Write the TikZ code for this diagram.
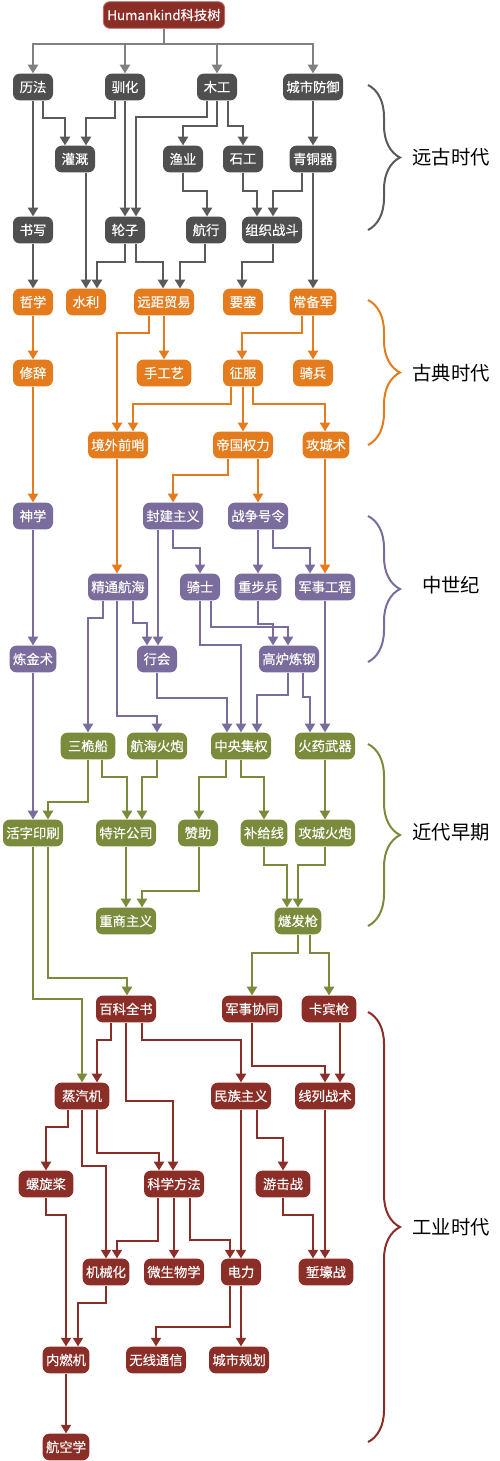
\documentclass[tikz,border=0pt]{standalone}
\usepackage{fontspec}
\setmainfont{Noto Sans CJK SC}
\newfontfamily\boxfont{Noto Sans CJK SC}[FakeBold=0.3]
\usepackage{xcolor}
\usetikzlibrary{arrows.meta}
\usetikzlibrary{decorations.pathreplacing}

\definecolor{gyfill}{RGB}{79,79,79}
\definecolor{gyline}{RGB}{90,90,90}
\definecolor{busline}{RGB}{128,128,128}
\definecolor{ogfill}{RGB}{228,124,30}
\definecolor{ppfill}{RGB}{122,108,156}
\definecolor{gnfill}{RGB}{122,140,60}
\definecolor{rdfill}{RGB}{140,46,40}

\begin{document}
\begin{tikzpicture}[x=0.75pt,y=0.75pt,yscale=-1,xscale=1,
  box/.style={rounded corners=5pt,minimum height=20pt,minimum width=30pt,inner xsep=2.5pt,inner ysep=0pt,text=white,font=\boxfont\fontsize{10}{12}\selectfont},
  wide/.style={minimum width=41pt},
  gy/.style={box,fill=gyfill},
  og/.style={box,fill=ogfill},
  pp/.style={box,fill=ppfill},
  gn/.style={box,fill=gnfill},
  rd/.style={box,fill=rdfill},
  link/.style={line width=1.5pt,-{Triangle[length=6.5pt,width=7.5pt]}},
  bus/.style={link,color=busline},
  gye/.style={link,color=gyline},
  oge/.style={link,color=ogfill},
  ppe/.style={link,color=ppfill},
  gne/.style={link,color=gnfill},
  rde/.style={link,color=rdfill},
  era/.style={line width=1.5pt,decorate,decoration={brace,amplitude=24pt}},
  eralabel/.style={font=\fontsize{14.5}{16}\selectfont,text=black}]
\useasboundingbox (0,0) rectangle (500,1461);

% Root
\node[rd,minimum width=91pt,draw=rdfill!70!white,line width=0.6pt] (root) at (164,15) {Humankind科技树};

% Text Node: ancient era
\node[gy] (lifa) at (33,87) {历法};
\node[gy] (xunhua) at (125,87) {驯化};
\node[gy] (mugong) at (217,87) {木工};
\node[gy] (chengshi) at (313,87) {城市防御};
\node[gy] (guangai) at (75,159) {灌溉};
\node[gy] (yuye) at (183,159) {渔业};
\node[gy] (shigong) at (243,159) {石工};
\node[gy] (qingtong) at (313,159) {青铜器};
\node[gy] (shuxie) at (33,230) {书写};
\node[gy] (lunzi) at (125,230) {轮子};
\node[gy] (hangxing) at (206,230) {航行};
\node[gy] (zuzhi) at (272,230) {组织战斗};

% Text Node: classical era
\node[og] (zhexue) at (33,302) {哲学};
\node[og] (shuili) at (86,302) {水利};
\node[og] (yuanju) at (164,302) {远距贸易};
\node[og] (yaosai) at (243,302) {要塞};
\node[og] (changbei) at (313,302) {常备军};
\node[og] (xiuci) at (33,373) {修辞};
\node[og,wide] (shougong) at (164,373) {手工艺};
\node[og] (zhengfu) at (243,373) {征服};
\node[og] (qibing) at (313,373) {骑兵};
\node[og] (jingwai) at (118,445) {境外前哨};
\node[og] (diguo) at (243,445) {帝国权力};
\node[og] (gongcheng) at (326,445) {攻城术};

% Text Node: medieval era
\node[pp] (shenxue) at (33,516) {神学};
\node[pp] (fengjian) at (173,516) {封建主义};
\node[pp] (zhanzheng) at (258,516) {战争号令};
\node[pp] (jingtong) at (118,587) {精通航海};
\node[pp] (qishi) at (200,587) {骑士};
\node[pp] (zhongbu) at (258,587) {重步兵};
\node[pp] (junshi) at (325,587) {军事工程};
\node[pp] (lianjin) at (33,659) {炼金术};
\node[pp] (hanghui) at (157,659) {行会};
\node[pp] (gaolu) at (289,659) {高炉炼钢};

% Text Node: early modern era
\node[gn,wide] (sanwei) at (88,746) {三桅船};
\node[gn] (hanghai) at (157,746) {航海火炮};
\node[gn] (zhongyang) at (241,746) {中央集权};
\node[gn] (huoyao) at (325,746) {火药武器};
\node[gn] (huozi) at (33,833) {活字印刷};
\node[gn] (texu) at (126,833) {特许公司};
\node[gn] (zanzhu) at (198,833) {赞助};
\node[gn] (buji) at (264,833) {补给线};
\node[gn] (gongchenghp) at (325,833) {攻城火炮};
\node[gn] (zhongshang) at (126,921) {重商主义};
\node[gn] (suifa) at (298,921) {燧发枪};

% Text Node: industrial era
\node[rd] (baike) at (126,1009) {百科全书};
\node[rd] (junxie) at (252,1009) {军事协同};
\node[rd,wide] (kabin) at (329,1009) {卡宾枪};
\node[rd,wide] (zhengqi) at (82,1096) {蒸汽机};
\node[rd] (minzu) at (241,1096) {民族主义};
\node[rd] (xianlie) at (325,1096) {线列战术};
\node[rd,wide] (luoxuan) at (46,1184) {螺旋桨};
\node[rd] (kexue) at (174,1184) {科学方法};
\node[rd,wide] (youji) at (283,1184) {游击战};
\node[rd] (jixie) at (106,1272) {机械化};
\node[rd] (weisheng) at (174,1272) {微生物学};
\node[rd] (dianli) at (241,1272) {电力};
\node[rd,wide] (qianhao) at (326,1272) {堑壕战};
\node[rd] (neiran) at (66,1360) {内燃机};
\node[rd] (wuxian) at (156,1360) {无线通信};
\node[rd] (chengshigh) at (239,1360) {城市规划};
\node[rd] (hangkong) at (66,1447) {航空学};

%Straight Lines: root bus
\draw[bus] (root.south) -- ++(0,15) -| (lifa.north);
\draw[bus] (root.south) -- ++(0,15) -| (xunhua.north);
\draw[bus] (root.south) -- ++(0,15) -| (mugong.north);
\draw[bus] (root.south) -- ++(0,15) -| (chengshi.north);

%Straight Lines: ancient
\draw[gye] (lifa.south) -- (lifa.south |- shuxie.north);
\draw[gye] (lifa.south -| 43,0) |- (65,118) -- (guangai.north -| 65,0);
\draw[gye] (xunhua.south -| 115,0) |- (86,118) -- (guangai.north -| 86,0);
\draw[gye] (xunhua.south) -- (xunhua.south |- lunzi.north);
\draw[gye] (mugong.south -| 207,0) |- (136,117) -- (lunzi.north -| 136,0);
\draw[gye] (mugong.south) |- (183,126) -- (yuye.north);
\draw[gye] (mugong.south -| 228,0) |- (243,126) -- (shigong.north);
\draw[gye] (chengshi.south) -- (qingtong.north);
\draw[gye] (yuye.south) |- (207,191) -- (hangxing.north -| 207,0);
\draw[gye] (shigong.south) |- (257,191) -- (zuzhi.north -| 257,0);
\draw[gye] (qingtong.south -| 302,0) |- (273,191) -- (zuzhi.north -| 273,0);
\draw[gye] (qingtong.south) -- (changbei.north);
\draw[gye] (shuxie.south) -- (zhexue.north);
\draw[gye] (guangai.south -| shuili.north) -- (shuili.north);
\draw[gye] (lunzi.south) |- (97,262) -- (shuili.north -| 97,0);
\draw[gye] (lunzi.south -| 136,0) |- (163,262) -- (yuanju.north -| 163,0);
\draw[gye] (hangxing.south -| 205,0) |- (180,262) -- (yuanju.north -| 180,0);
\draw[gye] (zuzhi.south -| 273,0) |- (242,262) -- (yaosai.north -| 242,0);

%Straight Lines: classical
\draw[oge] (zhexue.south) -- (xiuci.north);
\draw[oge] (yuanju.south -| 149,0) |- (117,333) -- (jingwai.north -| 117,0);
\draw[oge] (yuanju.south) -- (shougong.north);
\draw[oge] (changbei.south -| 302,0) |- (242,333) -- (zhengfu.north -| 242,0);
\draw[oge] (changbei.south) -- (qibing.north);
\draw[oge] (zhengfu.south -| 231,0) |- (133,404) -- (jingwai.north -| 133,0);
\draw[oge] (zhengfu.south) -- (diguo.north);
\draw[oge] (zhengfu.south -| 253,0) |- (325,404) -- (gongcheng.north -| 325,0);
\draw[oge] (xiuci.south) -- (shenxue.north);
\draw[oge] (jingwai.south -| 117,0) -- (jingtong.north -| 117,0);
\draw[oge] (diguo.south -| 228,0) |- (173,475) -- (fengjian.north);
\draw[oge] (diguo.south -| 258,0) -- (zhanzheng.north);
\draw[oge] (gongcheng.south -| 325,0) -- (junshi.north -| 325,0);

%Straight Lines: medieval
\draw[ppe] (shenxue.south) -- (lianjin.north);
\draw[ppe] (fengjian.south -| 158,0) -- (hanghui.north -| 158,0);
\draw[ppe] (fengjian.south) |- (200,548) -- (qishi.north);
\draw[ppe] (zhanzheng.south) -- (zhongbu.north);
\draw[ppe] (zhanzheng.south -| 273,0) |- (310,548) -- (junshi.north -| 310,0);
\draw[ppe] (jingtong.south -| 133,0) |- (147,623) -- (hanghui.north -| 147,0);
\draw[ppe] (jingtong.south -| 103,0) |- (88,618) -- (sanwei.north);
\draw[ppe] (jingtong.south -| 117,0) |- (157,716) -- (hanghai.north);
\draw[ppe] (qishi.south) |- (241,645) -- (zhongyang.north);
\draw[ppe] (qishi.south -| 211,0) |- (288,627) -- (gaolu.north -| 288,0);
\draw[ppe] (zhongbu.south) |- (273,624) -- (gaolu.north -| 273,0);
\draw[ppe] (hanghui.south) |- (227,698) -- (zhongyang.north -| 227,0);
\draw[ppe] (gaolu.south -| 288,0) |- (257,695) -- (zhongyang.north -| 257,0);
\draw[ppe] (gaolu.south -| 303,0) |- (310,697) -- (huoyao.north -| 310,0);
\draw[ppe] (junshi.south) -- (huoyao.north);
\draw[ppe] (lianjin.south) -- (huozi.north);

%Straight Lines: early modern
\draw[gne] (sanwei.south) |- (48,802) -- (huozi.north -| 48,0);
\draw[gne] (sanwei.south -| 102,0) |- (127,777) -- (texu.north -| 127,0);
\draw[gne] (hanghai.south) |- (142,777) -- (texu.north -| 142,0);
\draw[gne] (zhongyang.south -| 226,0) |- (199,777) -- (zanzhu.north -| 199,0);
\draw[gne] (zhongyang.south) |- (264,777) -- (buji.north);
\draw[gne] (huoyao.south) -- (gongchenghp.north);
\draw[gne] (texu.south) -- (zhongshang.north);
\draw[gne] (zanzhu.south -| 199,0) |- (142,891) -- (zhongshang.north -| 142,0);
\draw[gne] (buji.south) |- (287,865) -- (suifa.north -| 287,0);
\draw[gne] (gongchenghp.south) |- (298,865) -- (suifa.north -| 298,0);
\draw[gne] (huozi.south) |- (82,999) -- (zhengqi.north);
\draw[gne] (huozi.south -| 48,0) |- (127,978) -- (baike.north -| 127,0);
\draw[gne] (suifa.south) |- (252,953) -- (junxie.north);
\draw[gne] (suifa.south -| 310,0) |- (329,953) -- (kabin.north);

%Straight Lines: industrial
\draw[rde] (baike.south -| 111,0) |- (97,1040) -- (zhengqi.north -| 97,0);
\draw[rde] (baike.south) |- (173,1101) -- (kexue.north -| 173,0);
\draw[rde] (baike.south -| 142,0) |- (241,1040) -- (minzu.north);
\draw[rde] (junxie.south) |- (325,1066) -- (xianlie.north);
\draw[rde] (kabin.south -| 340,0) -- (xianlie.north -| 340,0);
\draw[rde] (zhengqi.south -| 68,0) |- (46,1127) -- (luoxuan.north);
\draw[rde] (zhengqi.south) |- (106,1166) -- (jixie.north);
\draw[rde] (zhengqi.south -| 97,0) |- (159,1153) -- (kexue.north -| 159,0);
\draw[rde] (minzu.south) -- (dianli.north);
\draw[rde] (minzu.south -| 257,0) |- (283,1138) -- (youji.north);
\draw[rde] (kexue.south -| 190,0) |- (230,1240) -- (dianli.north -| 230,0);
\draw[rde] (kexue.south -| 158,0) |- (117,1241) -- (jixie.north -| 117,0);
\draw[rde] (kexue.south) -- (weisheng.north);
\draw[rde] (youji.south) |- (313,1215) -- (qianhao.north -| 313,0);
\draw[rde] (xianlie.south) -- (xianlie.south |- qianhao.north);
\draw[rde] (luoxuan.south) |- (66,1215) -- (neiran.north);
\draw[rde] (jixie.south) |- (78,1303) -- (neiran.north -| 78,0);
\draw[rde] (dianli.south -| 230,0) |- (156,1327) -- (wuxian.north);
\draw[rde] (dianli.south) -- (dianli.south |- chengshigh.north);
\draw[rde] (neiran.south) -- (hangkong.north);

%Braces and era labels
\draw[era,color=gyline] (368,85) -- (368,230);
\node[eralabel] (eraancient) at (451,157) {远古时代};
\draw[era,color=ogfill] (368,300) -- (368,445);
\node[eralabel] (eraclassical) at (451,373) {古典时代};
\draw[era,color=ppfill] (368,516) -- (368,662);
\node[eralabel] (eramedieval) at (451,585) {中世纪};
\draw[era,color=gnfill] (368,744) -- (368,926);
\node[eralabel] (eraearly) at (451,832) {近代早期};
\draw[era,color=rdfill] (368,1012) -- (368,1442);
\node[eralabel] (eraindustrial) at (451,1227) {工业时代};

\end{tikzpicture}
\end{document}
